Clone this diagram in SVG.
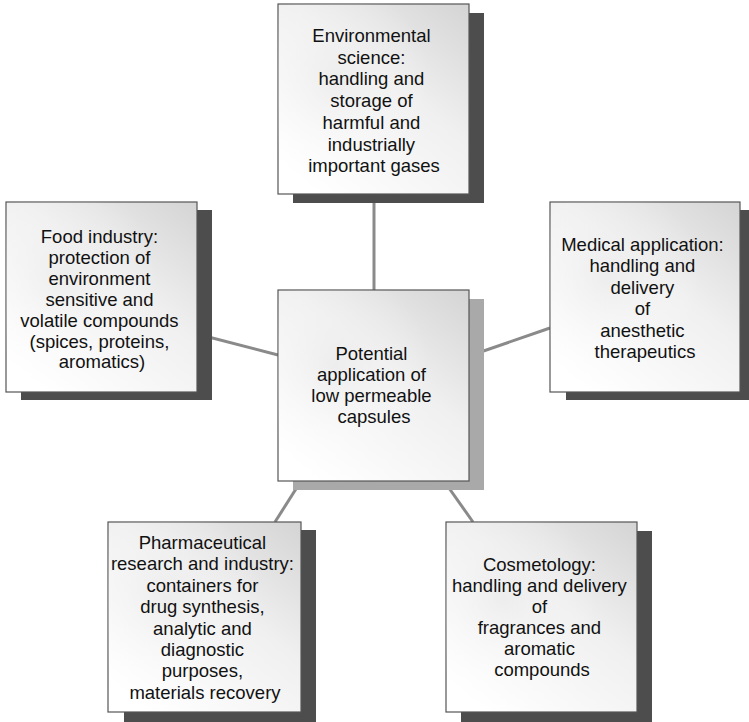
<svg xmlns="http://www.w3.org/2000/svg" width="749" height="722" viewBox="0 0 749 722">
  <defs>
    <linearGradient id="boxfill" x1="1" y1="0" x2="0.2" y2="1">
      <stop offset="0" stop-color="#d4d4d4"/>
      <stop offset="0.45" stop-color="#f0f0f0"/>
      <stop offset="1" stop-color="#ffffff"/>
    </linearGradient>
    <radialGradient id="cloud" cx="0.3" cy="0.4" r="0.5">
      <stop offset="0" stop-color="#e6e6e6" stop-opacity="0.5"/>
      <stop offset="1" stop-color="#ffffff" stop-opacity="0"/>
    </radialGradient>
  </defs>
  <style>
    .box { fill: url(#boxfill); stroke: #555555; stroke-width: 1.2; }
    .cloud { fill: url(#cloud); }
    .shadow { fill: #4d4d4d; }
    .shadow-light { fill: #a9a9a9; }
    .conn { stroke: #8a8a8a; stroke-width: 3; fill: none; }
    text { font-family: "Liberation Sans", Arial, sans-serif; font-size: 18.5px; fill: #111111; text-anchor: middle; }
  </style>

  <g id="connectors">
    <line class="conn" x1="374" y1="194" x2="374" y2="290"/>
    <line class="conn" x1="197" y1="334" x2="278" y2="355"/>
    <line class="conn" x1="469" y1="356" x2="550" y2="328"/>
    <line class="conn" x1="301" y1="481" x2="275" y2="522"/>
    <line class="conn" x1="444" y1="481" x2="473" y2="522"/>
  </g>

  <g id="node-environmental">
    <rect class="shadow" x="293" y="13" width="191" height="190"/>
    <rect class="box" x="278" y="4" width="191" height="190"/>
    <rect class="cloud" x="278" y="4" width="191" height="190"/>
    <text x="374" y="42">
      <tspan x="374">Environmental</tspan>
      <tspan x="374" dy="21.7">science:</tspan>
      <tspan x="374" dy="21.7">handling and</tspan>
      <tspan x="374" dy="21.7">storage of</tspan>
      <tspan x="374" dy="21.7">harmful and</tspan>
      <tspan x="374" dy="21.7">industrially</tspan>
      <tspan x="374" dy="21.7">important gases</tspan>
    </text>
  </g>

  <g id="node-food">
    <rect class="shadow" x="21" y="210" width="191" height="190"/>
    <rect class="box" x="6" y="202" width="191" height="190"/>
    <rect class="cloud" x="6" y="202" width="191" height="190"/>
    <text x="102" y="243">
      <tspan x="102">Food industry:</tspan>
      <tspan x="102" dy="20.9">protection of</tspan>
      <tspan x="102" dy="20.9">environment</tspan>
      <tspan x="102" dy="20.9">sensitive and</tspan>
      <tspan x="102" dy="20.9">volatile compounds</tspan>
      <tspan x="102" dy="20.9">(spices, proteins,</tspan>
      <tspan x="102" dy="20.9">aromatics)</tspan>
    </text>
  </g>

  <g id="node-medical">
    <rect class="shadow" x="566" y="210" width="191" height="190"/>
    <rect class="box" x="550" y="202" width="190" height="190"/>
    <rect class="cloud" x="550" y="202" width="190" height="190"/>
    <text x="645" y="251">
      <tspan x="645">Medical application:</tspan>
      <tspan x="645" dy="21.4">handling and</tspan>
      <tspan x="645" dy="21.4">delivery</tspan>
      <tspan x="645" dy="21.4">of</tspan>
      <tspan x="645" dy="21.4">anesthetic</tspan>
      <tspan x="645" dy="21.4">therapeutics</tspan>
    </text>
  </g>

  <g id="node-center">
    <rect class="shadow-light" x="293" y="299" width="191" height="191"/>
    <rect class="box" x="278" y="290" width="191" height="191"/>
    <rect class="cloud" x="278" y="290" width="191" height="191"/>
    <text x="374" y="360">
      <tspan x="374">Potential</tspan>
      <tspan x="374" dy="21">application of</tspan>
      <tspan x="374" dy="21">low permeable</tspan>
      <tspan x="374" dy="21">capsules</tspan>
    </text>
  </g>

  <g id="node-pharma">
    <rect class="shadow" x="124" y="530" width="192" height="200"/>
    <rect class="box" x="108" y="522" width="193" height="190"/>
    <rect class="cloud" x="108" y="522" width="193" height="190"/>
    <text x="205" y="549">
      <tspan x="205">Pharmaceutical</tspan>
      <tspan x="205" dy="21.4">research and industry:</tspan>
      <tspan x="205" dy="21.4">containers for</tspan>
      <tspan x="205" dy="21.4">drug synthesis,</tspan>
      <tspan x="205" dy="21.4">analytic and</tspan>
      <tspan x="205" dy="21.4">diagnostic</tspan>
      <tspan x="205" dy="21.4">purposes,</tspan>
      <tspan x="205" dy="21.4">materials recovery</tspan>
    </text>
  </g>

  <g id="node-cosmetology">
    <rect class="shadow" x="461" y="531" width="191" height="200"/>
    <rect class="box" x="446" y="522" width="191" height="190"/>
    <rect class="cloud" x="446" y="522" width="191" height="190"/>
    <text x="542" y="571">
      <tspan x="542">Cosmetology:</tspan>
      <tspan x="542" dy="21">handling and delivery</tspan>
      <tspan x="542" dy="21">of</tspan>
      <tspan x="542" dy="21">fragrances and</tspan>
      <tspan x="542" dy="21">aromatic</tspan>
      <tspan x="542" dy="21">compounds</tspan>
    </text>
  </g>
</svg>
